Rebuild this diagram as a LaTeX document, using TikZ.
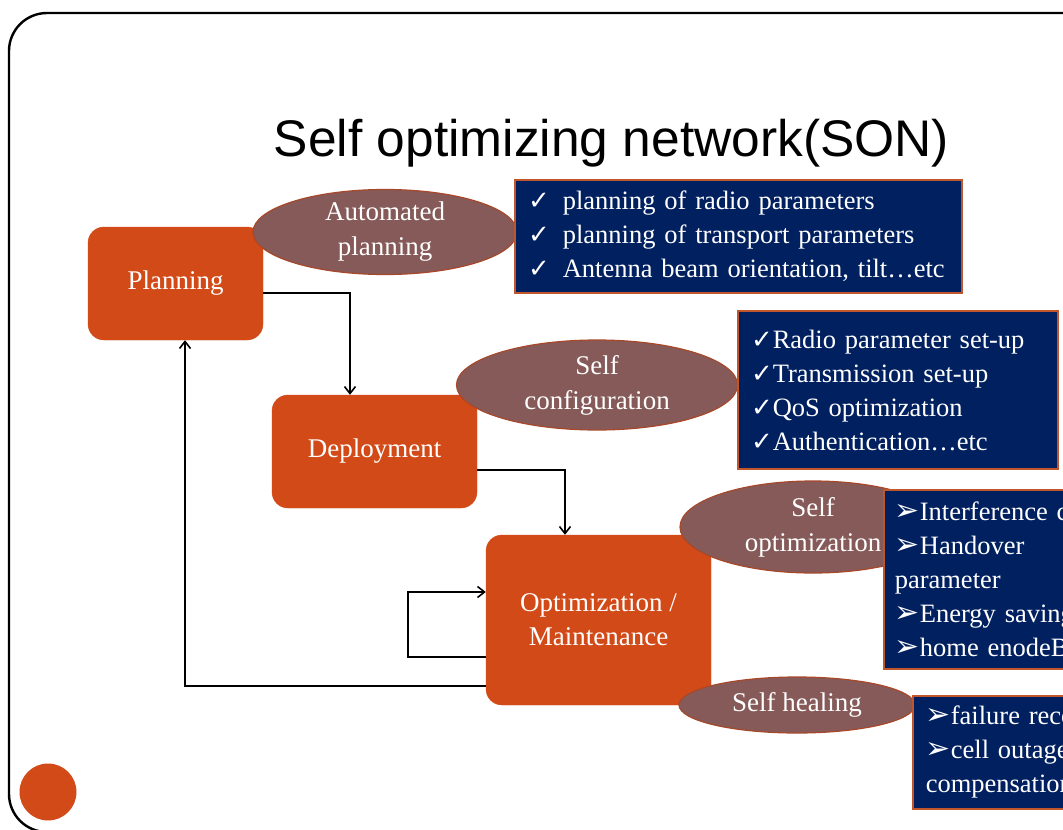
\documentclass[tikz,border=0pt]{standalone}
\usepackage{fontspec}
\setmainfont{Liberation Serif}
\newfontfamily\titlefont{Liberation Sans}
\newfontfamily\symfont{DejaVu Sans}
\usetikzlibrary{shapes.geometric, arrows.meta}
\definecolor{boxFill}{HTML}{D24A17}
\definecolor{ellFill}{HTML}{855A58}
\definecolor{ellLine}{HTML}{A8482A}
\definecolor{listFill}{HTML}{002060}
\definecolor{listLine}{HTML}{C0562C}
\newcommand{\ChkMark}{{\symfont\fontsize{26}{34}\selectfont ✓}}
\newcommand{\ArrBul}{{\symfont\fontsize{30}{34}\selectfont ➢}}
\tikzset{
    Step/.style = {
        fill=boxFill, draw=boxFill, rounded corners=16pt,
        text=white, align=center,
        font=\fontsize{27}{34}\selectfont
    },
    Bubble/.style = {
        ellipse, fill=ellFill, draw=ellLine, line width=1.2pt,
        inner sep=0pt, text=white, align=center,
        font=\fontsize{27}{35}\selectfont
    },
    List/.style = {
        fill=listFill, draw=listLine, line width=1.5pt,
        text=white, align=left, inner xsep=13pt,
        font=\fontsize{26.5}{34}\selectfont
    },
    Arrow/.style = {
        line width=1.6pt,
        -{Straight Barb[length=7pt, width=11pt]}
    }
}

\begin{document}
\begin{tikzpicture}[x=1pt, y=-1pt]
    \clip (0,0) rectangle (1063,830);
    \draw [line width=2.4pt, rounded corners=38pt] (9,13) rectangle (1120,832);
    \fill [boxFill] (48,792) circle (28.5);
    \node [font=\titlefont\fontsize{51.5}{60}\selectfont, anchor=base] (Title) at (611.5,156) {Self optimizing network(SON)};

    \node [Step, minimum width=175pt, minimum height=113pt] (Plan) at (175.5,283.5) {Planning};
    \node [Step, minimum width=205pt, minimum height=113pt] (Deploy) at (374.5,451.5) {Deployment};
    \node [Step, minimum width=225pt, minimum height=170pt] (Opt) at (598.5,620) {Optimization /\\ Maintenance};

    \node [Bubble, minimum width=264pt, minimum height=85pt] (AutoPlan) at (385,232) {Automated\\ planning};
    \node [Bubble, minimum width=281pt, minimum height=90pt] (SelfConf) at (597,385) {Self\\ configuration};
    \node [Bubble, minimum width=266pt, minimum height=92pt] (SelfOpt) at (813,527) {Self\\ optimization};
    \node [Bubble, minimum width=236pt, minimum height=56pt] (SelfHeal) at (797,705) {Self healing};

    \node [List, text width=421pt, minimum height=113pt] (PlanList) at (738.5,236.5)
        {\ChkMark\hspace{13pt}planning of radio parameters\\
         \ChkMark\hspace{13pt}planning of transport parameters\\
         \ChkMark\hspace{13pt}Antenna beam orientation, tilt\dots etc};
    \node [List, text width=294pt, minimum height=158pt] (ConfList) at (898,390)
        {\ChkMark Radio parameter set-up\\
         \ChkMark Transmission set-up\\
         \ChkMark QoS optimization\\
         \ChkMark Authentication\dots etc};
    \node [List, anchor=north west, text width=250pt, minimum height=179pt, inner xsep=11pt] (OptList) at (883,489)
        {\ArrBul Interference control\\
         \ArrBul Handover\\
         parameter\\
         \ArrBul Energy saving\\
         \ArrBul home enodeB};
    \node [List, anchor=north west, text width=240pt, minimum height=113pt] (HealList) at (912,695)
        {\ArrBul failure recovery\\
         \ArrBul cell outage\\
         compensation};

    \draw [Arrow] ([yshift=-9.5pt]Plan.east) -| ([xshift=-24.5pt]Deploy.north);
    \draw [Arrow] ([yshift=-18.5pt]Deploy.east) -| ([xshift=-33.5pt]Opt.north);
    \draw [Arrow] ([yshift=-37pt]Opt.west) -- ++(-78,0) |- ([yshift=28pt]Opt.west);
    \draw [Arrow] ([yshift=-66pt]Opt.west) -| ([xshift=9.5pt]Plan.south);
\end{tikzpicture}
\end{document}
